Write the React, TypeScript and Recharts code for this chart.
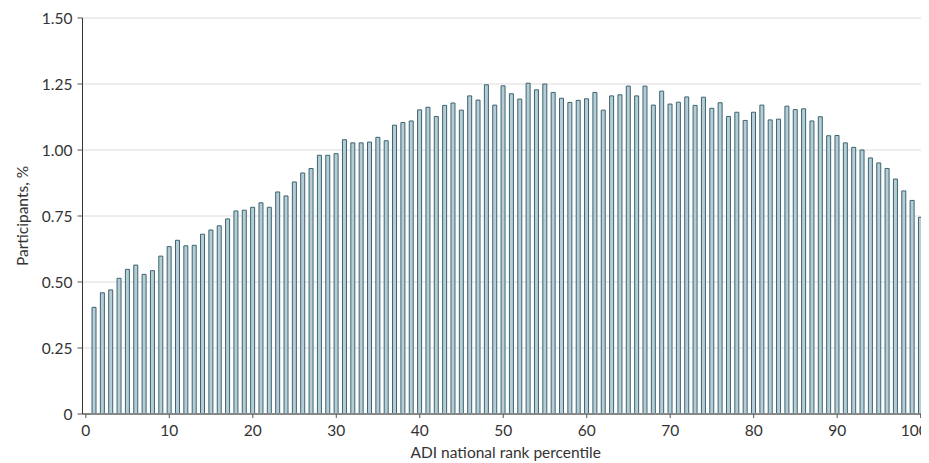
import { BarChart, Bar, XAxis, YAxis, CartesianGrid } from 'recharts'

// ADI national rank percentile (1-100)
const percentiles = [
  1, 2, 3, 4, 5, 6, 7, 8, 9, 10,
  11, 12, 13, 14, 15, 16, 17, 18, 19, 20,
  21, 22, 23, 24, 25, 26, 27, 28, 29, 30,
  31, 32, 33, 34, 35, 36, 37, 38, 39, 40,
  41, 42, 43, 44, 45, 46, 47, 48, 49, 50,
  51, 52, 53, 54, 55, 56, 57, 58, 59, 60,
  61, 62, 63, 64, 65, 66, 67, 68, 69, 70,
  71, 72, 73, 74, 75, 76, 77, 78, 79, 80,
  81, 82, 83, 84, 85, 86, 87, 88, 89, 90,
  91, 92, 93, 94, 95, 96, 97, 98, 99, 100,
]

// Participants, %
const participants = [
  0.404, 0.459, 0.47, 0.514, 0.548, 0.564, 0.529, 0.543, 0.598, 0.634,
  0.658, 0.637, 0.639, 0.681, 0.697, 0.713, 0.739, 0.769, 0.772, 0.783,
  0.8, 0.783, 0.841, 0.826, 0.879, 0.913, 0.93, 0.98, 0.98, 0.986,
  1.039, 1.027, 1.027, 1.03, 1.048, 1.035, 1.094, 1.104, 1.11, 1.152,
  1.162, 1.127, 1.169, 1.178, 1.151, 1.205, 1.189, 1.247, 1.17, 1.243,
  1.213, 1.193, 1.253, 1.228, 1.25, 1.218, 1.196, 1.18, 1.188, 1.194,
  1.218, 1.151, 1.205, 1.209, 1.242, 1.205, 1.242, 1.17, 1.223, 1.174,
  1.181, 1.201, 1.169, 1.2, 1.158, 1.179, 1.127, 1.143, 1.112, 1.143,
  1.17, 1.114, 1.117, 1.166, 1.153, 1.156, 1.11, 1.126, 1.054, 1.055,
  1.027, 1.01, 1, 0.97, 0.951, 0.93, 0.89, 0.845, 0.809, 0.745,
]

const xTicks = [0, 10, 20, 30, 40, 50, 60, 70, 80, 90, 100]
const yTicks = [0, 0.25, 0.5, 0.75, 1, 1.25, 1.5]

const FONT = 'Lato, "Liberation Sans", sans-serif'
const FS = 15.5
const CHART_W = 921

function YLabel(props: any) {
  const vb = props.viewBox || {}
  const cx = vb.x + 14
  const cy = vb.y + vb.height / 2
  return (
    <text
      x={cx}
      y={cy}
      transform={`rotate(-90, ${cx}, ${cy})`}
      textAnchor="middle"
      dominantBaseline="central"
      fill="#333"
      fontSize={FS}
      fontFamily={FONT}
    >
      Participants, %
    </text>
  )
}

// keeps the last label ("100") inside the picture instead of cut at the edge
function XTick(props: any) {
  const { x, y, payload } = props
  const label = String(payload.value)
  const halfW = label.length * 4.6
  const tx = Math.min(x, CHART_W - 1 - halfW)
  return (
    <text
      x={tx}
      y={y}
      dy="0.71em"
      textAnchor="middle"
      fill="#333"
      fontSize={FS}
      fontFamily={FONT}
    >
      {label}
    </text>
  )
}

export default function App() {
  const data = percentiles.map((p, i) => ({ pct: p, value: participants[i] }))

  return (
    <div style={{ width: CHART_W, height: 455, overflow: 'hidden', fontFamily: FONT }}>
      <BarChart
        width={CHART_W}
        height={455}
        data={data}
        margin={{ top: 10, right: 0, bottom: 0, left: 0 }}
      >
        <CartesianGrid vertical={false} stroke="#dcdcdc" strokeWidth={1} />
        <XAxis
          dataKey="pct"
          type="number"
          domain={[-0.4, 101]}
          ticks={xTicks}
          allowDataOverflow
          height={49}
          tickSize={4}
          tickMargin={7}
          stroke="#888"
          axisLine={{ stroke: '#888', strokeWidth: 2 }}
          tickLine={{ stroke: '#555' }}
          tick={<XTick />}
          label={{
            value: 'ADI national rank percentile',
            position: 'insideBottom',
            offset: 5,
            fill: '#333',
            fontSize: FS,
            fontFamily: FONT,
          }}
        />
        <YAxis
          type="number"
          domain={[0, 1.5]}
          ticks={yTicks}
          width={74.5}
          tickSize={5}
          tickMargin={5}
          axisLine={{ stroke: '#333' }}
          tickLine={{ stroke: '#555' }}
          tick={{ fill: '#333', fontSize: FS, fontFamily: FONT }}
          tickFormatter={(v: number) => (v === 0 ? '0' : v.toFixed(2))}
          label={<YLabel />}
        />
        <Bar
          dataKey="value"
          barSize={4}
          fill="#b6cdd6"
          stroke="#3b6470"
          strokeWidth={1}
          isAnimationActive={false}
        />
      </BarChart>
    </div>
  )
}
